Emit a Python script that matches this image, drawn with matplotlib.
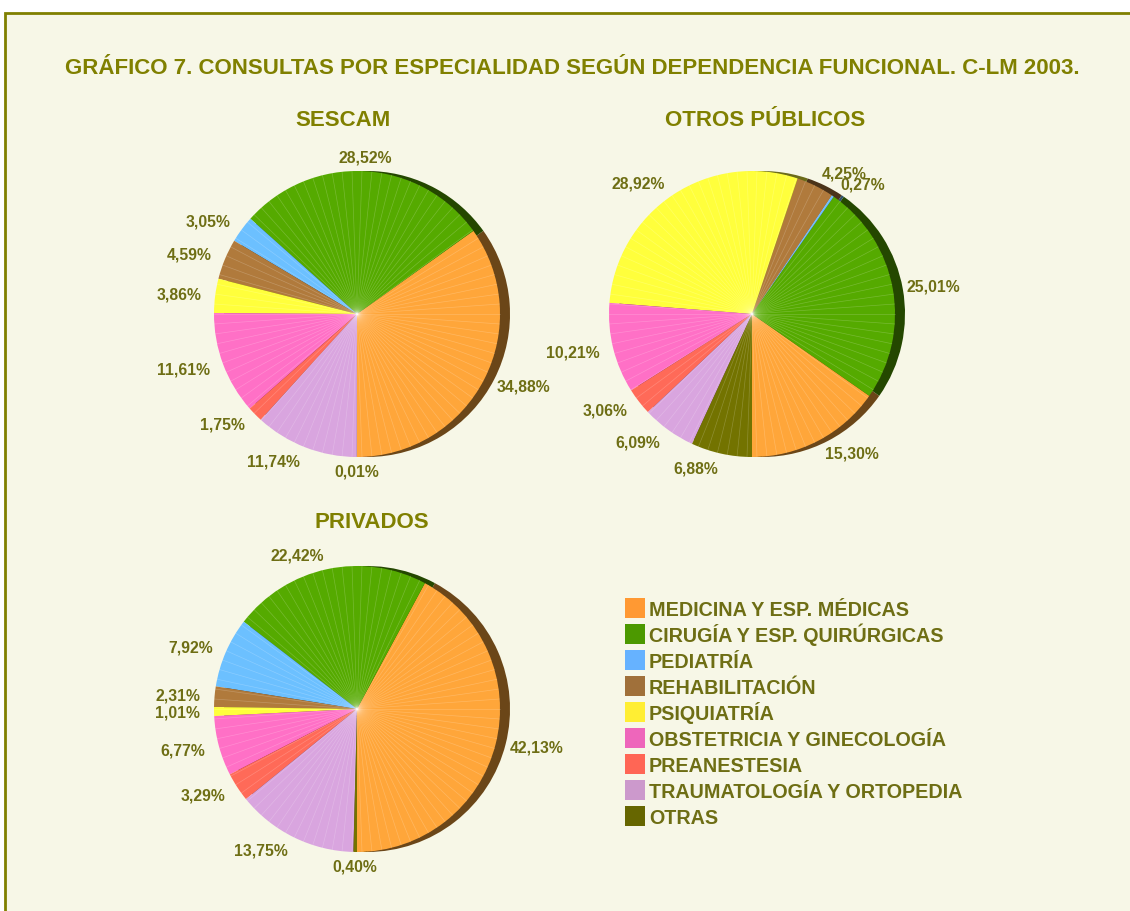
import numpy as np
import matplotlib
matplotlib.use("Agg")
import matplotlib.pyplot as plt
from matplotlib.patches import Rectangle
from matplotlib import colors as mcolors

plt.rcParams["font.family"] = ["Liberation Sans", "DejaVu Sans"]

# data (percent of consultations by speciality)
especialidades = ["MEDICINA Y ESP. MÉDICAS", "CIRUGÍA Y ESP. QUIRÚRGICAS", "PEDIATRÍA",
                  "REHABILITACIÓN", "PSIQUIATRÍA", "OBSTETRICIA Y GINECOLOGÍA",
                  "PREANESTESIA", "TRAUMATOLOGÍA Y ORTOPEDIA", "OTRAS"]
sescam = [34.88, 28.52, 3.05, 4.59, 3.86, 11.61, 1.75, 11.74, 0.01]
otros_publicos = [15.30, 25.01, 0.27, 4.25, 28.92, 10.21, 3.06, 6.09, 6.88]
privados = [42.13, 22.42, 7.92, 2.31, 1.01, 6.77, 3.29, 13.75, 0.40]

pie_cols = ["#FFA63A", "#55AA00", "#6CC0FF", "#B07A3C", "#FFFF3C",
            "#FF70C6", "#FF6A58", "#D9A5DF", "#737300"]
leg_cols = ["#FF9933", "#4C9900", "#66B2FF", "#A0703A", "#FFEE33",
            "#EE66BB", "#FF6655", "#CC99CC", "#666600"]

BG = "#F7F7E7"
OLIVE = "#808000"
TXT = "#6E6E14"
W, H = 1130, 912
R = 143  # pie radius in px

fig = plt.figure(figsize=(W / 100, H / 100), dpi=100, facecolor="white")

# frame
fr = fig.add_axes([0, 0, 1, 1]); fr.axis("off")
fr.set_xlim(0, W); fr.set_ylim(H, 0)
fr.add_patch(Rectangle((5, 14), W + 10, H, facecolor=BG, edgecolor=OLIVE, lw=2))

fig.text(572 / W, 1 - 68 / H,
         "GRÁFICO 7. CONSULTAS POR ESPECIALIDAD SEGÚN DEPENDENCIA FUNCIONAL. C-LM 2003.",
         ha="center", va="center", fontsize=16, fontweight="bold", color=OLIVE)


def draw_pie(cx, cy, vals, title, tx, ty):
    span = 2.5 * R
    ax = fig.add_axes([(cx - span / 2) / W, (H - cy - span / 2) / H, span / W, span / H])
    ax.set_xlim(-1.25, 1.25); ax.set_ylim(-1.25, 1.25)
    ax.set_aspect("equal"); ax.axis("off")
    dark = [tuple(np.array(mcolors.to_rgb(c)) * 0.42) for c in pie_cols]
    # shadow (3D effect)
    ax.pie(vals, colors=dark, startangle=270, counterclock=True, center=(0.07, 0),
           radius=1.0, wedgeprops=dict(linewidth=0))
    wedges, _ = ax.pie(vals, colors=pie_cols, startangle=270, counterclock=True,
                       radius=1.0, wedgeprops=dict(linewidth=0))
    ax.set_xlim(-1.25, 1.25); ax.set_ylim(-1.25, 1.25)
    # light stripes
    for a in np.arange(0, 360, 4.0):
        t = np.deg2rad(a)
        ax.plot([0, np.cos(t)], [0, np.sin(t)], color="white", lw=0.5, alpha=0.2)
    for w, v in zip(wedges, vals):
        mid = np.deg2rad((w.theta1 + w.theta2) / 2)
        c, s = np.cos(mid), np.sin(mid)
        rr = 1.1
        ha = "left" if c > 0.15 else ("right" if c < -0.15 else "center")
        ax.text(rr * c, rr * s, f"{v:.2f}%".replace(".", ","), ha=ha, va="center",
                fontsize=11.3, fontweight="bold", color=TXT)
    fig.text(tx / W, 1 - ty / H, title, ha="center", va="center",
             fontsize=16, fontweight="bold", color=OLIVE)


draw_pie(357, 315, sescam, "SESCAM", 343, 120)
draw_pie(752, 315, otros_publicos, "OTROS PÚBLICOS", 765, 120)
draw_pie(357, 710, privados, "PRIVADOS", 372, 523)

# legend
for i, (lab, col) in enumerate(zip(especialidades, leg_cols)):
    y = 609 + i * 26
    fr.add_patch(Rectangle((625, y - 10), 20, 20, facecolor=col, edgecolor="none"))
    fr.text(649, y + 7, lab, ha="left", va="baseline", fontsize=14.2,
            fontweight="bold", color=TXT)

fig.savefig("out.png", dpi=100, facecolor="white")
